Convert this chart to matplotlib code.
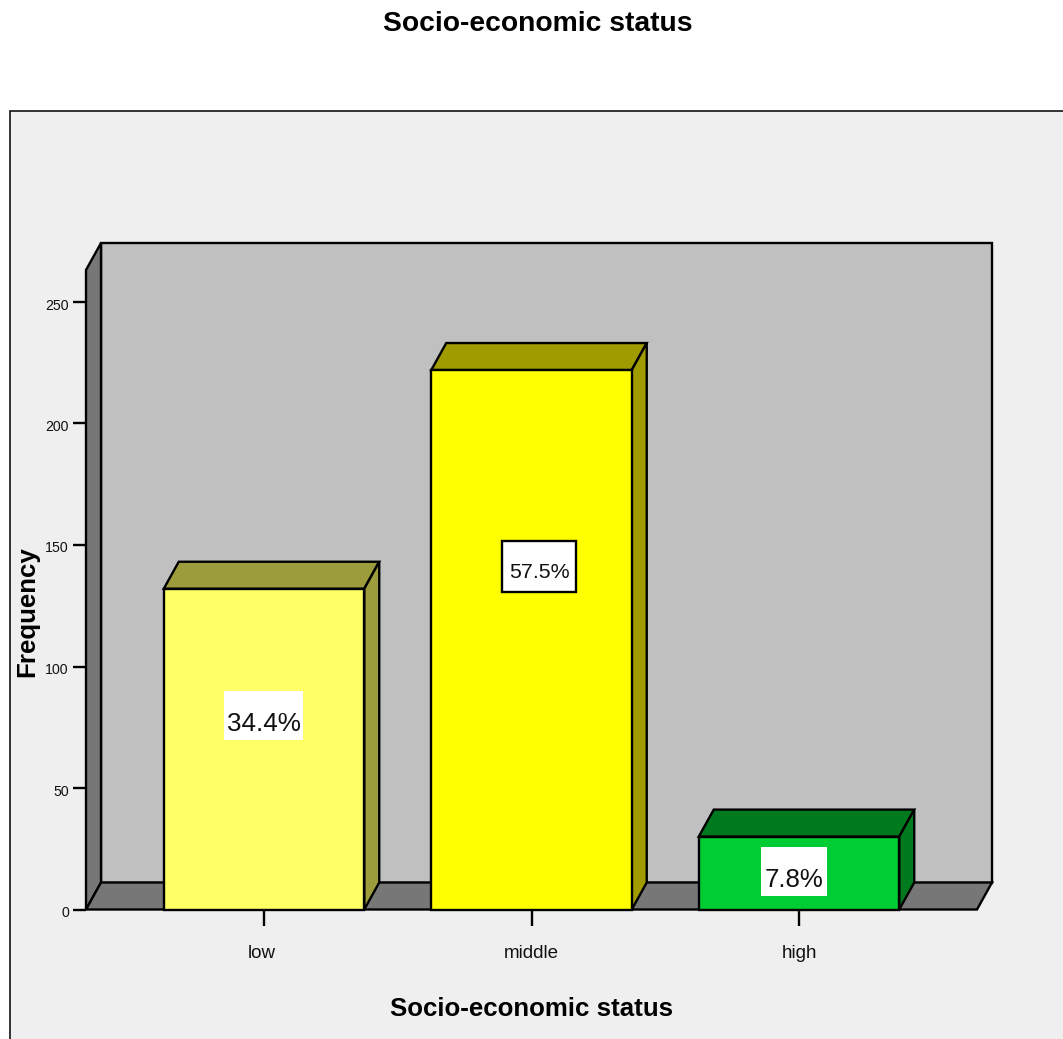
import matplotlib
matplotlib.use("Agg")
import matplotlib.pyplot as plt
from matplotlib.patches import Polygon, Rectangle
from matplotlib.transforms import Affine2D

plt.rcParams['font.family'] = ['Liberation Sans', 'DejaVu Sans']

# data
categories = ["low", "middle", "high"]
frequency = [132, 222, 30]
percent_labels = ["34.4%", "57.5%", "7.8%"]
y_ticks = [0, 50, 100, 150, 200, 250]

# canvas size in px
W, H = 1063, 1039
lw = 1.7
edge = "black"

front_colors = ["#ffff66", "#ffff00", "#00cc33"]
shade_colors = ["#9c9c3c", "#a09c00", "#007a1f"]
wall_color = "#c0c0c0"
side_color = "#777777"
panel_color = "#efefef"

fig = plt.figure(figsize=(W / 100, H / 100), dpi=100, facecolor="white")
# pixel coordinates, origin top left
px = Affine2D().scale(1, -1).translate(0, H)

# outer panel, runs off the right and bottom edges
fig.patches.append(Rectangle((9.5, 111), W + 20, H, transform=px, facecolor=panel_color,
                             edgecolor="#111111", linewidth=1.2, zorder=-1))

base_y = 909.5
ax = fig.add_axes([86 / W, 1 - base_y / H, (977 - 86) / W, (base_y - 270) / H])
ax.patch.set_visible(False)
x_unit = 267.5   # px per category
y_unit = 2.43    # px per frequency count
ax.set_xlim((86 - 264) / x_unit, (977 - 264) / x_unit)
ax.set_ylim(0, (base_y - 270) / y_unit)
x0, x1 = ax.get_xlim()
y1 = ax.get_ylim()[1]

# depth of the fake 3d box
dx = 15 / x_unit
dy = 27 / y_unit
bar_w = 200.5 / x_unit


def face(points, color, z):
    ax.add_patch(Polygon(points, closed=True, facecolor=color, edgecolor=edge, linewidth=lw,
                         joinstyle="miter", clip_on=False, zorder=z))


# back wall, left wall, floor
face([(x0 + dx, dy), (x1 + dx, dy), (x1 + dx, y1 + dy), (x0 + dx, y1 + dy)], wall_color, 1)
face([(x0, 0), (x0 + dx, dy), (x0 + dx, y1 + dy), (x0, y1)], side_color, 2)
face([(x0, 0), (x0 + dx, dy), (x1 + dx, dy), (x1, 0)], side_color, 2)

for i, v in enumerate(frequency):
    l, r = i - bar_w / 2, i + bar_w / 2
    # top and right side of each bar
    face([(l, v), (l + dx, v + dy), (r + dx, v + dy), (r, v)], shade_colors[i], 3)
    face([(r, 0), (r + dx, dy), (r + dx, v + dy), (r, v)], shade_colors[i], 3)

ax.bar(range(len(categories)), frequency, width=bar_w, color=front_colors, edgecolor=edge,
       linewidth=lw, zorder=4, clip_on=False)

# percentage boxes: left, top, width, height, frame, font size, text baseline
label_boxes = [(224, 691, 79, 49, False, 18.8, 731), (502, 541, 74, 51, True, 15.4, 578),
               (761, 847, 66, 49, False, 18.6, 887)]
for label, (bx, by, bw, bh, framed, size, base) in zip(percent_labels, label_boxes):
    fig.patches.append(Rectangle((bx, by), bw, bh, transform=px, facecolor="white",
                                 edgecolor=edge if framed else "none", linewidth=lw, zorder=5))
    fig.text(bx + bw / 2, base, label, transform=px, fontsize=size,
             ha="center", va="baseline", color="#111111", zorder=6)

for s in ax.spines.values():
    s.set_visible(False)
ax.set_xticks(range(len(categories)))
ax.set_xticklabels(categories, fontsize=13.5, color="#111111")
ax.set_yticks(y_ticks)
ax.tick_params(axis="x", length=11.5, width=lw, pad=14)
ax.tick_params(axis="y", length=9.4, width=lw, pad=3, labelsize=10.2, labelcolor="#111111")

# y labels sit a little below their ticks, "low" a little left of its tick
for t in ax.get_yticklabels():
    t.set_transform(t.get_transform() + Affine2D().translate(0, -2))
low_label = ax.get_xticklabels()[0]
low_label.set_transform(low_label.get_transform() + Affine2D().translate(-2, 0))

fig.text(538 / W, 1 - 31 / H, "Socio-economic status", fontsize=20.3, fontweight="bold",
         ha="center", va="baseline")
fig.text(531 / W, 1 - 1016 / H, "Socio-economic status", fontsize=18.6, fontweight="bold",
         ha="center", va="baseline")
fig.text(34 / W, 1 - 612 / H, "Frequency", fontsize=18.6, fontweight="bold", rotation=90,
         ha="center", va="baseline", rotation_mode="anchor")

fig.savefig("out.png", dpi=100)
